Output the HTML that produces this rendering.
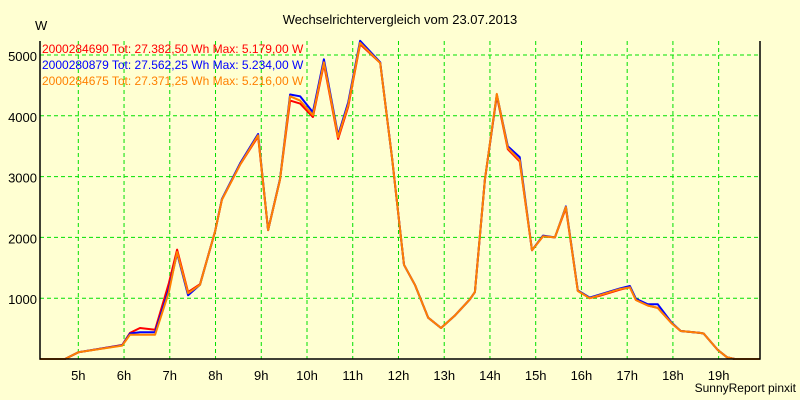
<!DOCTYPE html>
<html><head><meta charset="utf-8"><style>
body{margin:0;background:#ffffd2;}
svg{display:block;font-family:"Liberation Sans",sans-serif;}
</style></head><body>
<svg id="chart" width="800" height="400" viewBox="0 0 800 400">
<rect x="0" y="0" width="800" height="400" fill="#ffffd2"/>
<text x="400" y="24" text-anchor="middle" font-size="13" fill="#000">Wechselrichtervergleich vom 23.07.2013</text>
<text x="35" y="30" font-size="13" fill="#000">W</text>
<g id="grid"></g>
<g id="series"></g>
<g id="axes"></g>
<text x="42" y="53" font-size="12" fill="#ff0000">2000284690 Tot: 27.382,50 Wh Max: 5.179,00 W</text>
<text x="42" y="69" font-size="12" fill="#0000ff">2000280879 Tot: 27.562,25 Wh Max: 5.234,00 W</text>
<text x="42" y="85" font-size="12" fill="#ff8000">2000284675 Tot: 27.371,25 Wh Max: 5.216,00 W</text>
<text x="796" y="392" text-anchor="end" font-size="12" fill="#000">SunnyReport pinxit</text>
</svg>
<script>
const times=[4.16,4.71,5.0,5.96,6.13,6.35,6.68,6.98,7.16,7.40,7.66,7.99,8.14,8.54,8.93,9.15,9.41,9.63,9.85,10.13,10.37,10.68,10.90,11.16,11.60,11.86,12.12,12.36,12.65,12.93,13.24,13.56,13.67,13.89,14.15,14.39,14.65,14.92,15.16,15.42,15.66,15.92,16.18,16.40,16.84,17.06,17.19,17.45,17.67,17.97,18.17,18.59,18.67,18.98,19.18,19.35,19.90];
const orangeVals=[0,0,110,220,400,400,400,1100,1760,1080,1220,2100,2620,3200,3680,2120,2950,4320,4250,4010,4880,3650,4180,5200,4870,3300,1550,1220,680,510,720,980,1100,2950,4360,3470,3270,1790,2020,2000,2500,1120,1000,1050,1150,1180,970,880,840,590,460,430,420,150,30,0,0];
const redVals=[0,0,110,230,430,510,480,1250,1800,1100,1230,2100,2620,3200,3660,2120,2950,4250,4200,3980,4850,3620,4150,5179,4870,3300,1550,1220,680,510,720,980,1100,2950,4330,3450,3250,1790,2020,2000,2480,1120,1000,1040,1140,1180,970,880,840,590,460,430,420,150,30,0,0];
const blueVals=[0,0,110,225,420,440,440,1150,1740,1050,1220,2100,2630,3220,3700,2120,2960,4350,4320,4060,4930,3680,4220,5234,4880,3300,1550,1220,680,510,720,980,1100,2950,4350,3500,3320,1790,2030,2000,2510,1130,1010,1060,1160,1200,990,900,900,600,460,430,420,150,30,0,0];
const yTicks=[1000,2000,3000,4000,5000];
const xTicks=[5,6,7,8,9,10,11,12,13,14,15,16,17,18,19];
const NS="http://www.w3.org/2000/svg";
const L=40,R=760,T=41,B=359;
const xs=h=>78.3+(h-5)*45.74;
const ys=v=>B-v*0.0608;
function mk(tag,attrs,parent){const e=document.createElementNS(NS,tag);for(const k in attrs)e.setAttribute(k,attrs[k]);parent.appendChild(e);return e;}
const grid=document.getElementById('grid'),axes=document.getElementById('axes'),series=document.getElementById('series');
yTicks.forEach(v=>{
 const l=mk('line',{x1:L,x2:R,y1:ys(v),y2:ys(v),stroke:'#00e000','stroke-dasharray':'4,3'},grid);
 
 
 const t=mk('text',{x:37,y:ys(v)+6,'text-anchor':'end','font-size':'13',fill:'#000'},axes);
 t.textContent=v;
 
 
});
xTicks.forEach(h=>{
 const l=mk('line',{x1:xs(h),x2:xs(h),y1:T,y2:B,stroke:'#00e000','stroke-dasharray':'4,3'},grid);
 
 
 const t=mk('text',{x:xs(h),y:380,'text-anchor':'middle','font-size':'13',fill:'#000'},axes);
 t.textContent=h+'h';
 
 
});
const frame=mk('polyline',{points:`${L},${T} ${L},${B} ${R},${B} ${R},${T}`,fill:'none',stroke:'#000','stroke-width':1.5},axes);


[[redVals,'#ff0000','series-2000284690'],[blueVals,'#0000ff','series-2000280879'],[orangeVals,'#ff8000','series-2000284675']].forEach(([vals,c,n])=>{
 const p=mk('polyline',{points:times.map((t,i)=>xs(t).toFixed(1)+','+ys(vals[i]).toFixed(1)).join(' '),fill:'none',stroke:c,'stroke-width':2,'stroke-linejoin':'round'},series);
 
 
});
</script>
</body></html>
